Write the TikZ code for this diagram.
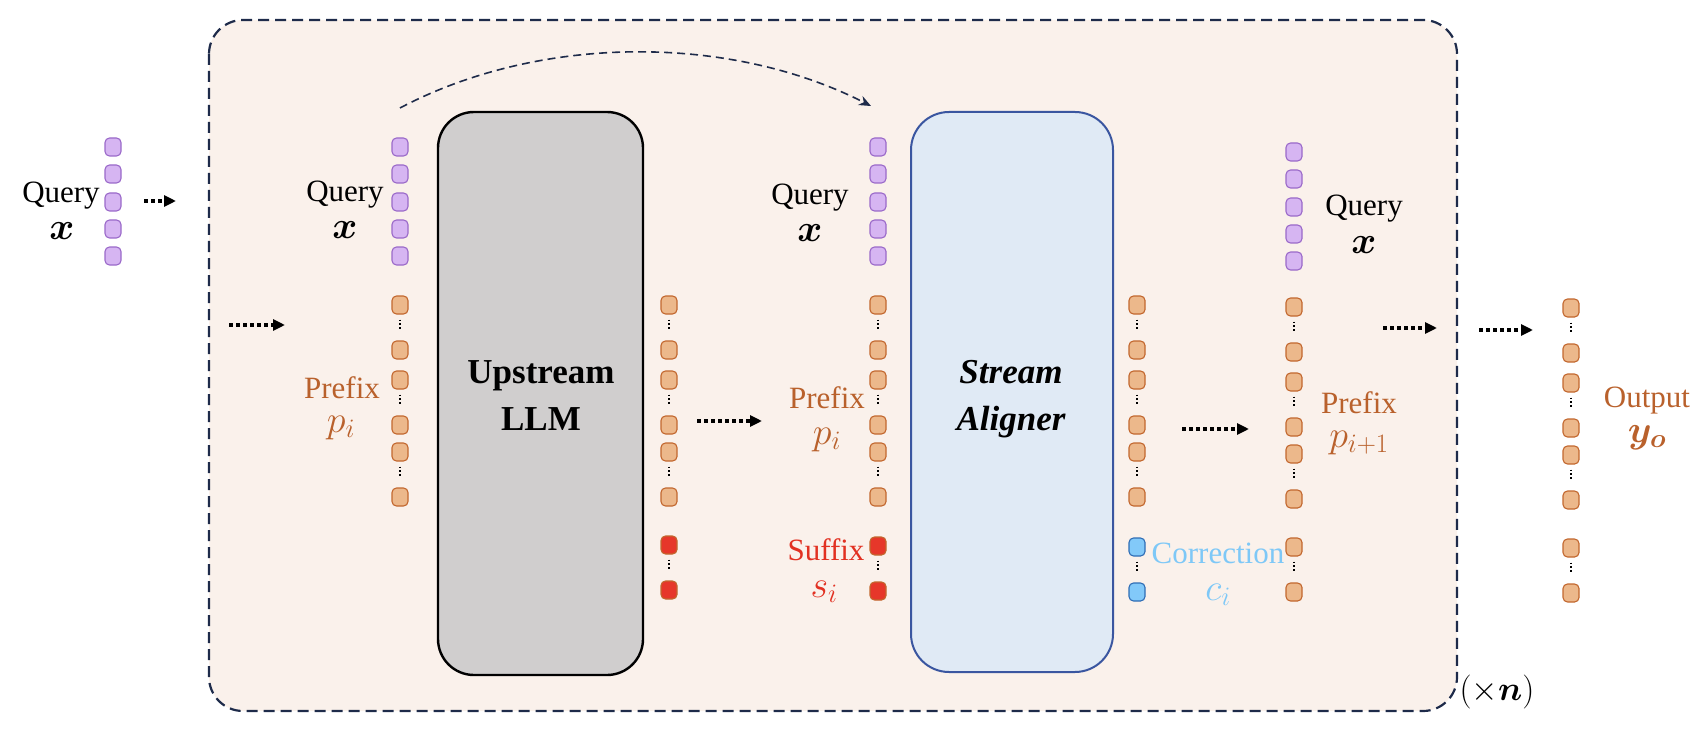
\RequirePackage{fix-cm}
\documentclass[tikz,border=0pt]{standalone}
\usepackage{amsmath}
\usepackage{bm}
\usepackage{fontspec}
\setmainfont{Liberation Serif}
\usetikzlibrary{arrows.meta}
\definecolor{qfill}{HTML}{D6B5F2}
\definecolor{qdraw}{HTML}{9A69C9}
\definecolor{pfill}{HTML}{ECB88B}
\definecolor{pdraw}{HTML}{C2672E}
\definecolor{sfill}{HTML}{E6372A}
\definecolor{cfill}{HTML}{82C9F9}
\definecolor{cdraw}{HTML}{2F6DB5}
\definecolor{bgfill}{HTML}{FAF1EB}
\definecolor{navy}{HTML}{1E2B4A}
\definecolor{llmfill}{HTML}{D0CECE}
\definecolor{alnfill}{HTML}{E0EAF5}
\definecolor{alndraw}{HTML}{3A56A0}
\definecolor{ptext}{HTML}{B9612C}
\definecolor{stext}{HTML}{E23122}
\definecolor{ctext}{HTML}{7EC8F7}
\newcommand\tokQ[3]{%
  \foreach \i/\yy in {1/147,2/174,3/202,4/229,5/256}
    \node[qtok] (#1q\i) at (#2,\yy+#3) {};}
\newcommand\tokP[3]{%
  \foreach \i/\yy in {1/305,2/350,3/380,4/425,5/452,6/497}
    \node[ptok] (#1p\i) at (#2,\yy+#3) {};
  \draw[vdots] (#1p1) -- (#1p2);
  \draw[vdots] (#1p3) -- (#1p4);
  \draw[vdots] (#1p5) -- (#1p6);}
\newcommand\tokL[4]{%
  \node[#4] (#1l1) at (#2,545+#3) {};
  \node[#4] (#1l2) at (#2,590+#3) {};
  \draw[vdots] (#1l1) -- (#1l2);}
\begin{document}
\begin{tikzpicture}[x=1pt,y=-1pt,
  tok/.style={rectangle, rounded corners=4.5pt, minimum width=16pt, minimum height=18pt, inner sep=0pt, line width=1.1pt},
  qtok/.style={tok, fill=qfill, draw=qdraw},
  ptok/.style={tok, fill=pfill, draw=pdraw},
  stok/.style={tok, fill=sfill, draw=pdraw},
  ctok/.style={tok, fill=cfill, draw=cdraw},
  vdots/.style={draw=black, line width=1.4pt, dash pattern=on 1.6pt off 2.2pt, shorten <=5pt, shorten >=10pt},
  framebox/.style={draw=navy, fill=bgfill, line width=2.2pt, dash pattern=on 11pt off 6pt, rounded corners=34pt},
  llmbox/.style={draw=black, fill=llmfill, line width=2.4pt, rounded corners=36pt, minimum width=205pt, minimum height=563pt, inner sep=0pt},
  alnbox/.style={draw=alndraw, fill=alnfill, line width=2pt, rounded corners=38pt, minimum width=202pt, minimum height=560pt, inner sep=0pt},
  lbl/.style={anchor=base, inner sep=0pt, font=\fontsize{31}{37}\selectfont},
  mth/.style={anchor=base, inner sep=0pt, font=\fontsize{38}{44}\selectfont},
  boxtxt/.style={anchor=base, inner sep=0pt, font=\fontsize{35}{42}\selectfont\bfseries},
  flow/.style={draw=black, line width=3.6pt, dash pattern=on 4pt off 3pt, -{Triangle[length=12pt,width=11pt]}},
  skip/.style={draw=navy, line width=1.6pt, dash pattern=on 8pt off 5pt, -{Stealth[length=12pt,width=10pt]}}
]
\useasboundingbox (0,0) rectangle (1708,746);
% frame
\draw[framebox] (209,20) rectangle (1457,711);
% model boxes
\node[llmbox] (llm) at (540.5,393.5) {};
\node[alnbox] (aln) at (1012,392) {};
\node[boxtxt] (llmA) at (541,383) {Upstream};
\node[boxtxt] (llmB) at (541,430) {LLM};
\node[boxtxt, font=\fontsize{35}{42}\selectfont\bfseries\itshape] (alnA) at (1011,383) {Stream};
\node[boxtxt, font=\fontsize{35}{42}\selectfont\bfseries\itshape] (alnB) at (1011,430) {Aligner};
% token columns
\tokQ{c1}{113}{0}
\tokQ{c2}{400}{0}
\tokP{c2}{400}{0}
\tokP{c3}{669}{0}
\tokL{c3}{669}{0}{stok}
\tokQ{c4}{878}{0}
\tokP{c4}{878}{0}
\tokL{c4}{878}{1}{stok}
\tokP{c5}{1137}{0}
\tokL{c5}{1137}{2}{ctok}
\tokQ{c6}{1294}{5}
\tokP{c6}{1294}{2}
\tokL{c6}{1294}{2}{ptok}
\tokP{c7}{1571}{3}
\tokL{c7}{1571}{3}{ptok}
% labels
\node[lbl] (q1) at (61,203) {Query};
\node[mth] (x1) at (62,240) {$\bm{x}$};
\node[lbl] (q2) at (345,202) {Query};
\node[mth] (x2) at (345,239) {$\bm{x}$};
\node[lbl, text=ptext] (pr2) at (342,398) {Prefix};
\node[mth, text=ptext] (pi2) at (341,432) {$p_i$};
\node[lbl] (q4) at (810,205) {Query};
\node[mth] (x4) at (810,242) {$\bm{x}$};
\node[lbl, text=ptext] (pr4) at (827,408) {Prefix};
\node[mth, text=ptext] (pi4) at (827,444) {$p_i$};
\node[lbl, text=stext] (sf4) at (826,560) {Suffix};
\node[mth, text=stext] (si4) at (824,597) {$s_i$};
\node[lbl, text=ctext] (cr5) at (1218,563) {Correction};
\node[mth, text=ctext] (ci5) at (1218,600) {$c_i$};
\node[lbl] (q6) at (1364,216) {Query};
\node[mth] (x6) at (1364,253) {$\bm{x}$};
\node[lbl, text=ptext] (pr6) at (1359,413) {Prefix};
\node[mth, text=ptext] (pi6) at (1359,447) {$p_{i+1}$};
\node[lbl, text=ptext] (out) at (1647,407) {Output};
\node[mth, text=ptext] (yo) at (1647,442) {$\bm{y_o}$};
\node[lbl, font=\fontsize{34}{40}\selectfont] (rep) at (1497,700) {$(\times\bm{n})$};
% flow arrows
\coordinate (a1s) at (144,201); \coordinate (a1e) at (176,201);
\coordinate (a2s) at (229,325); \coordinate (a2e) at (285,325);
\coordinate (a3s) at (697,421); \coordinate (a3e) at (762,421);
\coordinate (a4s) at (1182,429); \coordinate (a4e) at (1249,429);
\coordinate (a5s) at (1383,328); \coordinate (a5e) at (1437,328);
\coordinate (a6s) at (1479,330); \coordinate (a6e) at (1533,330);
\draw[flow] (a1s) -- (a1e);
\draw[flow] (a2s) -- (a2e);
\draw[flow] (a3s) -- (a3e);
\draw[flow] (a4s) -- (a4e);
\draw[flow] (a5s) -- (a5e);
\draw[flow] (a6s) -- (a6e);
% skip connection
\coordinate (ks) at (400,108);
\coordinate (ke) at (871,106);
\draw[skip] (ks) .. controls (540,34) and (730,34) .. (ke);
\end{tikzpicture}
\end{document}
